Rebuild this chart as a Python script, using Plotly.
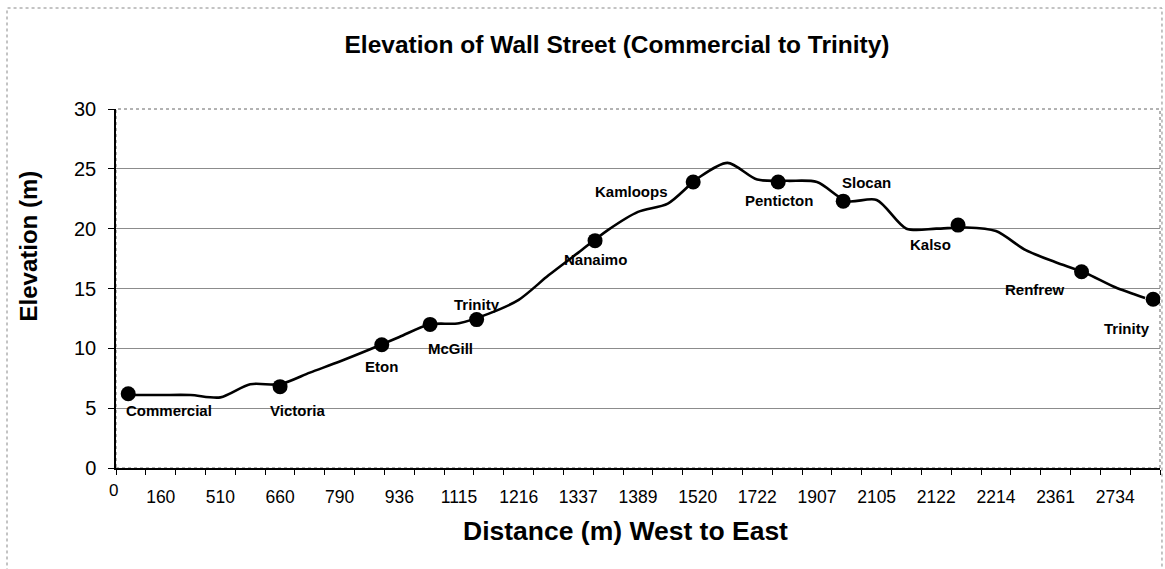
import plotly.graph_objects as go

# ---- data ----
# elevation profile (m), one value per distance category, west to east
elevation = [6.1, 6.1, 6.1, 5.9, 7.0, 7.0, 7.97, 8.9, 9.9, 10.95,
             12.0, 12.1, 12.9, 14.05, 16.1, 18.0, 19.9, 21.4, 22.1, 24.2,
             25.5, 24.1, 24.0, 23.9, 22.3, 22.4, 20.0, 20.0, 20.1, 19.8,
             18.2, 17.2, 16.3, 15.1, 14.2]

# distance tick labels (shown on every other category)
tick_labels = ["160", "510", "660", "790", "936", "1115", "1216", "1337", "1389",
               "1520", "1722", "1907", "2105", "2122", "2214", "2361", "2734"]
tick_categories = [1, 3, 5, 7, 9, 11, 13, 15, 17, 19, 21, 23, 25, 27, 29, 31, 33]

# cross streets: name, position along axis (category units), elevation (m)
streets = ["Commercial", "Victoria", "Eton", "McGill", "Trinity", "Nanaimo",
           "Kamloops", "Penticton", "Slocan", "Kalso", "Renfrew", "Trinity"]
street_pos = [0.41, 5.50, 8.91, 10.53, 12.09, 16.06, 19.35, 22.20, 24.38, 28.23, 32.37, 34.77]
street_elev = [6.2, 6.8, 10.3, 12.0, 12.4, 19.0, 23.9, 23.9, 22.3, 20.3, 16.4, 14.1]

# ---- style ----
label_dx = [41, 17, 0, 20, 0, 0, -62, 1, 23, -28, -47, -26]
label_dy = [-17, -24, -22, -24, 15, -19, -9, -18, 19, -19, -18, -29]
FONT = "Liberation Sans, Arial, sans-serif"

n_cat = len(elevation)
x_line = [i + 0.5 for i in range(n_cat)]

fig = go.Figure()
fig.add_trace(go.Scatter(
    x=x_line, y=elevation, mode="lines",
    line=dict(color="black", width=2.6, shape="spline", smoothing=0.8),
    hoverinfo="skip", showlegend=False))
fig.add_trace(go.Scatter(
    x=street_pos, y=street_elev, mode="markers", xaxis="x2",
    marker=dict(color="black", size=15),
    text=streets, showlegend=False))

annotations = []
for name, px, ev, dx, dy in zip(streets, street_pos, street_elev, label_dx, label_dy):
    annotations.append(dict(x=px, y=ev, xref="x", yref="y", text="<b>%s</b>" % name,
                            showarrow=False, xshift=dx, yshift=dy,
                            xanchor="center", yanchor="middle",
                            font=dict(family=FONT, size=15, color="black")))
annotations.append(dict(text="<b>Elevation (m)</b>", textangle=-90, xref="paper", yref="paper",
                        x=-0.0829, y=0.6184, xanchor="center", yanchor="middle", showarrow=False,
                        font=dict(family=FONT, size=24, color="black")))
annotations.append(dict(text="<b>Distance (m) West to East</b>", xref="paper", yref="paper",
                        x=0.4885, y=-0.1755, xanchor="center", yanchor="middle", showarrow=False,
                        font=dict(family=FONT, size=26.5, color="black")))
annotations.append(dict(text="0", xref="x", yref="paper", x=0, y=-0.0613, xshift=-3,
                        xanchor="center", yanchor="middle",
                        showarrow=False, font=dict(family=FONT, size=17, color="black")))

fig.update_layout(
    width=1165, height=569,
    margin=dict(l=116, r=5, t=109, b=101),
    paper_bgcolor="white", plot_bgcolor="white",
    title=dict(text="<b>Elevation of Wall Street (Commercial to Trinity)</b>",
               x=617 / 1165, xanchor="center", xref="container",
               y=1 - 44 / 569, yanchor="middle", yref="container",
               font=dict(family=FONT, size=24.5, color="black")),
    xaxis=dict(range=[0, n_cat], tickmode="array", tickvals=list(range(n_cat + 1)),
               ticktext=[""] * (n_cat + 1), ticks="outside", ticklen=5, tickcolor="black",
               showgrid=False, zeroline=False, showline=True, linecolor="black", linewidth=1.5,
               fixedrange=True),
    xaxis2=dict(range=[0, n_cat], overlaying="x", side="bottom", tickmode="array",
                tickvals=[c + 0.5 for c in tick_categories], ticktext=tick_labels,
                ticks="", showgrid=False, zeroline=False, showline=False,
                tickfont=dict(family=FONT, size=17.5, color="black"), ticklabelstandoff=16),
    yaxis=dict(range=[0, 30], dtick=5, ticks="outside", ticklen=6, tickcolor="black",
               showgrid=True, gridcolor="#8c8c8c", gridwidth=1, zeroline=False,
               showline=True, linecolor="black", linewidth=1.5,
               tickfont=dict(family=FONT, size=20, color="black"), ticklabelstandoff=8),
    annotations=annotations,
    shapes=[
        dict(type="rect", xref="paper", yref="paper", x0=0, x1=1, y0=0, y1=1,
             line=dict(color="#666", width=1, dash="dot"), layer="below"),
        dict(type="rect", xref="paper", yref="paper", x0=-0.1044, x1=1.0019, y0=-0.4, y1=1.2813,
             line=dict(color="#888", width=1, dash="dot")),
    ],
)

fig.write_html("out.html", config={"displayModeBar": False},
               post_script="document.body.style.margin='0';")
